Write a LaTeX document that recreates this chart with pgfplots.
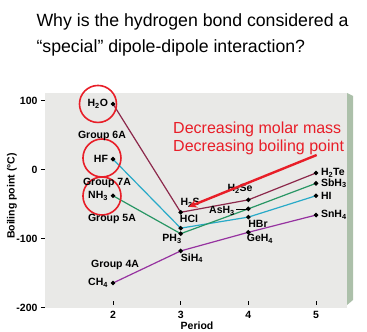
\documentclass[border=0pt]{standalone}
\usepackage{pgfplots}
\pgfplotsset{compat=1.18}
\usepackage{fontspec}
\setmainfont{Liberation Sans}
\usetikzlibrary{arrows.meta}
\definecolor{panel}{RGB}{233,233,231}
\definecolor{shadow}{RGB}{172,192,170}
\definecolor{gsix}{RGB}{140,40,75}
\definecolor{gseven}{RGB}{40,170,200}
\definecolor{gfive}{RGB}{40,150,100}
\definecolor{gfour}{RGB}{150,50,160}
\definecolor{hred}{RGB}{232,30,40}
\newcommand{\lab}{\fontsize{10.5}{12}\selectfont\bfseries}
\begin{document}
\begin{tikzpicture}
\path[use as bounding box] (0,0) rectangle (367pt,332pt);
\fill[shadow] (347pt,27pt) -- (353pt,32pt) -- (353pt,236pt) -- (347pt,239pt) -- cycle;
\node[anchor=base west, font=\fontsize{17.7}{20}\selectfont] at (33pt,305pt) {Why is the hydrogen bond considered a};
\node[anchor=base west, font=\fontsize{17.7}{20}\selectfont] at (33pt,279pt) {“special” dipole-dipole interaction?};
\node[rotate=90, font=\lab] at (12pt,136pt) {Boiling point (°C)};
\node[font=\lab] at (197pt,6pt) {Period};
\begin{axis}[
  at={(45pt,24pt)}, anchor=south west,
  scale only axis, width=302pt, height=215pt,
  xmin=0.995, xmax=5.458, ymin=-200.7, ymax=110.9,
  axis background/.style={fill=panel},
  axis line style={draw=none},
  xtick={2,3,4,5}, ytick={-200,-100,0,100},
  xtick pos=bottom, ytick pos=left,
  tick align=outside, major tick length=4pt,
  tick style={black, line width=0.6pt},
  xtick style={yshift=7pt},
  xticklabel style={yshift=4pt},
  /pgf/number format/assume math mode=true,
  ticklabel style={font=\lab},
  clip=false,
  every axis plot/.append style={line width=1.2pt, mark=*, mark size=1.6pt, mark options={black, fill=black, solid}},
]
\addplot[gsix] coordinates {(2,95) (3,-62) (4,-44) (5,-5)};
\addplot[gseven] coordinates {(2,15) (3,-85) (4,-69) (5,-38)};
\addplot[gfive] coordinates {(2,-38) (3,-93) (4,-57) (5,-20)};
\addplot[gfour] coordinates {(2,-164.5) (3,-118) (4,-91) (5,-66)};
% circles
\draw[hred, line width=1.6pt] (axis cs:1.778,95) circle[radius=18.5pt];
\draw[hred, line width=1.6pt] (axis cs:1.837,16.7) circle[radius=19pt];
\draw[hred, line width=1.6pt] (axis cs:1.837,-38.4) circle[radius=19pt];
% labels
\node[anchor=east, font=\lab, xshift=-1.5pt] at (axis cs:2,95) {H\textsubscript{2}O};
\node[anchor=east, font=\lab, xshift=-1.5pt] at (axis cs:2,15) {HF};
\node[anchor=east, font=\lab, xshift=-1.5pt] at (axis cs:2,-38) {NH\textsubscript{3}};
\node[anchor=east, font=\lab, xshift=-1.5pt] at (axis cs:2,-164.5) {CH\textsubscript{4}};
\node[font=\lab] at (axis cs:3.14,-48.5) {H\textsubscript{2}S};
\node[font=\lab] at (axis cs:3.123,-71.7) {HCl};
\node[font=\lab] at (axis cs:2.872,-100.7) {PH\textsubscript{3}};
\node[font=\lab] at (axis cs:3.167,-128.3) {SiH\textsubscript{4}};
\node[font=\lab] at (axis cs:3.877,-28.3) {H\textsubscript{2}Se};
\node[font=\lab] at (axis cs:3.611,-60.1) {AsH\textsubscript{3}};
\draw[black, line width=0.6pt] (axis cs:3.818,-57) -- (axis cs:3.98,-57);
\node[font=\lab] at (axis cs:4.143,-79) {HBr};
\node[font=\lab] at (axis cs:4.172,-100.7) {GeH\textsubscript{4}};
\node[anchor=west, font=\lab, xshift=1.5pt] at (axis cs:5,-5) {H\textsubscript{2}Te};
\node[anchor=west, font=\lab, xshift=1.5pt] at (axis cs:5,-20) {SbH\textsubscript{3}};
\node[anchor=west, font=\lab, xshift=1.5pt] at (axis cs:5,-38) {HI};
\node[anchor=west, font=\lab, xshift=1.5pt] at (axis cs:5,-66) {SnH\textsubscript{4}};
\node[font=\lab] at (axis cs:1.837,48.6) {Group 6A};
\node[font=\lab] at (axis cs:1.911,-19.6) {Group 7A};
\node[font=\lab] at (axis cs:1.985,-71.7) {Group 5A};
\node[font=\lab] at (axis cs:2.03,-138.4) {Group 4A};
\node[anchor=base west, text=hred, font=\fontsize{16}{18}\selectfont, inner sep=0pt] at (axis cs:2.887,52.9) {Decreasing molar mass};
\node[anchor=base west, text=hred, font=\fontsize{16}{18}\selectfont, inner sep=0pt] at (axis cs:2.887,26.8) {Decreasing boiling point};
\draw[hred, line width=2.4pt, -{Stealth[length=8pt,width=8pt]}] (axis cs:5.01,21) -- (axis cs:3.12,-54);
\end{axis}
\end{tikzpicture}
\end{document}
